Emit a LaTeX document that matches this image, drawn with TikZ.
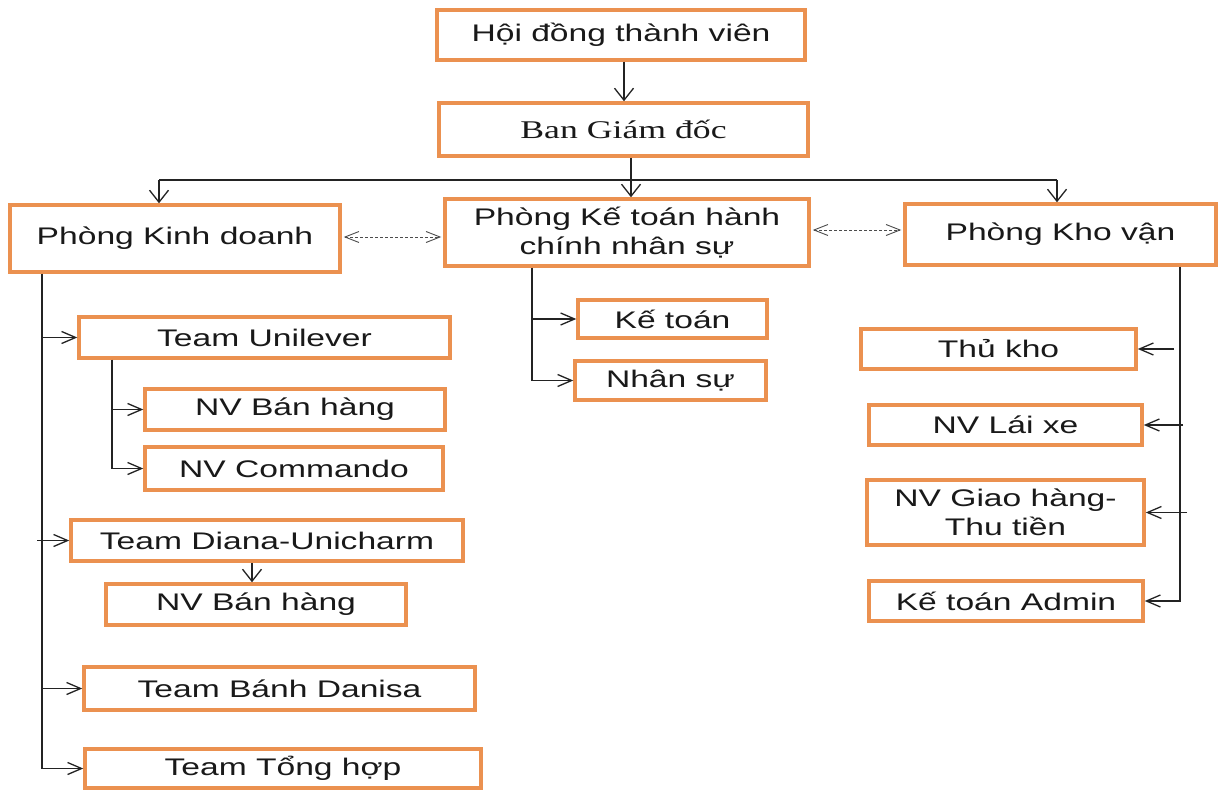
\documentclass[tikz,border=0pt]{standalone}
\usepackage{fontspec}
\setmainfont{Liberation Sans}[FakeStretch=1.4]
\newfontfamily\serifwide{Liberation Serif}[FakeStretch=1.4]
\usetikzlibrary{arrows.meta}
\definecolor{boxorange}{RGB}{235,145,80}
\definecolor{linegray}{RGB}{35,35,35}
\tikzset{
  box/.style={draw=boxorange, line width=3.5pt, fill=white, inner sep=0pt,
    align=center, font=\fontsize{24}{29}\selectfont, text=black!90},
  link/.style={draw=linegray, line width=1.4pt},
  varr/.style={link, -{Straight Barb[length=12pt,width=19pt,line width=1.3pt]}},
  harr/.style={link, -{Straight Barb[length=14pt,width=12pt,line width=1.3pt]}},
  darr/.style={draw=black!70, line width=0.9pt, dash pattern=on 3pt off 2pt,
    {Straight Barb[length=14pt,width=11pt,line width=0.9pt]}-{Straight Barb[length=14pt,width=11pt,line width=0.9pt]},
    shorten <=2pt, shorten >=2pt}
}
\newcommand\bx[6]{\node[box, minimum width={#3-#1-4}, minimum height={#4-#2-4}] (#5) at ({(#1+#3)/2},{(#2+#4)/2}) {#6};}
\begin{document}
\begin{tikzpicture}[x=1pt,y=-1pt]
\path[use as bounding box, fill=white] (0,0) rectangle (1223,791);
% boxes
\bx{435}{8}{807}{62}{hd}{Hội đồng thành viên}
\node[box, font={\serifwide\fontsize{25.5}{30}\selectfont}, minimum width=369, minimum height=53] (bgd) at (623.5,129.5) {Ban Giám đốc};
\bx{8}{203}{342}{274}{kd}{Phòng Kinh doanh}
\bx{443}{197}{811}{268}{kt}{Phòng Kế toán hành\\chính nhân sự}
\bx{903}{202}{1218}{267}{kho}{Phòng Kho vận}
\bx{77}{315}{452}{360}{tu}{Team Unilever}
\bx{143}{387}{447}{432}{bha}{NV Bán hàng}
\bx{143}{445}{445}{492}{cm}{NV Commando}
\bx{69}{518}{465}{563}{td}{Team Diana-Unicharm}
\bx{104}{582}{408}{627}{bhb}{NV Bán hàng}
\bx{82}{665}{477}{712}{bd}{Team Bánh Danisa}
\bx{83}{747}{483}{790}{th}{Team Tổng hợp}
\bx{576}{298}{769}{340}{kto}{Kế toán}
\bx{573}{359}{768}{402}{ns}{Nhân sự}
\bx{859}{327}{1138}{371}{tk}{Thủ kho}
\bx{867}{403}{1144}{447}{lx}{NV Lái xe}
\bx{865}{478}{1146}{547}{gh}{NV Giao hàng-\\Thu tiền}
\bx{867}{579}{1145}{623}{ka}{Kế toán Admin}
% coordinates for connector columns
\coordinate (hdx) at (624,0);
\coordinate (busL) at (159,180);
\coordinate (busM) at (631,180);
\coordinate (busR) at (1057,180);
\coordinate (kdx) at (42,0);
\coordinate (tux) at (112,0);
\coordinate (tdx) at (252,0);
\coordinate (ktx) at (532,0);
\coordinate (khx) at (1180,0);
% top
\draw[varr] (hd.south -| hdx) -- (bgd.north -| hdx);
\draw[link] (busL) -- (busR);
\draw[varr] (bgd.south -| busM) -- (kt.north -| busM);
\draw[varr] (busL) -- (kd.north -| busL);
\draw[varr] (busR) -- (kho.north -| busR);
% dashed links
\draw[darr] (kd.east |- 0,237) -- (kt.west |- 0,237);
\draw[darr] (kt.east |- 0,230) -- (kho.west |- 0,230);
% Phong Kinh doanh
\draw[harr] (kd.south -| kdx) |- (th.west);
\draw[harr] (kdx |- tu.west) -- (tu.west);
\draw[harr] ([xshift=-5pt]kdx |- td.west) -- (td.west);
\draw[harr] (kdx |- bd.west) -- (bd.west);
\draw[harr] (tu.south -| tux) |- (cm.west);
\draw[harr] (tux |- bha.west) -- (bha.west);
\draw[varr] (td.south -| tdx) -- (bhb.north -| tdx);
% Phong Ke toan
\draw[harr] (kt.south -| ktx) |- (ns.west);
\draw[harr] (ktx |- kto.west) -- (kto.west);
% Phong Kho van
\draw[harr] (kho.south -| khx) |- (ka.east);
\draw[harr] ([xshift=-6pt]khx |- tk.east) -- (tk.east);
\draw[harr] ([xshift=3pt]khx |- lx.east) -- (lx.east);
\draw[harr] ([xshift=7pt]khx |- gh.east) -- (gh.east);
\end{tikzpicture}
\end{document}
